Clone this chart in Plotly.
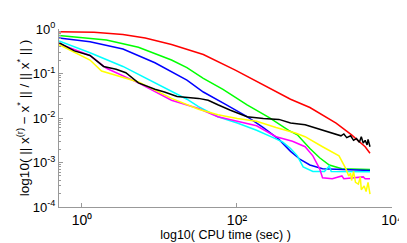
import plotly.graph_objects as go

# CPU time (sec) and relative error
red_t = [0.505, 1.43, 3.38, 6.55, 14.3, 36.8, 95.2, 276, 491, 873, 1900, 3011, 4504, 5200]
red_e = [0.868, 0.848, 0.753, 0.624, 0.448, 0.267, 0.119, 0.0443, 0.0264, 0.0172, 0.00771, 0.00418, 0.00226, 0.00162]

green_t = [0.505, 2.07, 5.35, 8.74, 14.3, 22.6, 36.8, 66.0, 135, 261, 464, 601, 873, 1164, 1552, 2258, 5200]
green_e = [0.718, 0.567, 0.389, 0.279, 0.201, 0.135, 0.078, 0.044, 0.0198, 0.0102, 0.00529, 0.00418, 0.00206, 0.00128, 0.000879, 0.000728, 0.000694]

blue_t = [0.505, 1.27, 3.38, 8.74, 22.6, 36.8, 69.4, 135, 219, 348, 491, 655, 873, 1270, 5200]
blue_e = [0.624, 0.516, 0.354, 0.174, 0.071, 0.0384, 0.0208, 0.0107, 0.00609, 0.00330, 0.00178, 0.00117, 0.000879, 0.000728, 0.000662]

cyan_t = [0.505, 1.27, 3.38, 8.74, 16.9, 22.6, 31.9, 56.7, 101, 179, 293, 390, 491, 601, 714, 953, 1345, 1552, 1645, 5200]
cyan_e = [0.541, 0.293, 0.144, 0.0616, 0.0350, 0.0264, 0.0180, 0.0107, 0.00771, 0.00529, 0.00362, 0.00286, 0.00206, 0.00141, 0.000800, 0.000631, 0.000631, 0.000838, 0.000631, 0.000617]

magenta_t = [0.505, 1.27, 2.07, 5.35, 14.3, 31.9, 56.7, 101, 179, 319, 520, 757, 953, 1164, 1270, 1693, 2258, 2392, 4254, 4504, 5200]
magenta_e = [0.470, 0.254, 0.131, 0.0616, 0.0251, 0.0164, 0.0107, 0.00848, 0.00670, 0.00380, 0.00300, 0.00226, 0.00141, 0.000728, 0.000453, 0.000432, 0.000498, 0.000432, 0.000475, 0.000432, 0.000432]

yellow_t = [0.505, 1.27, 1.79, 5.35, 14.3, 31.9, 56.7, 101, 179, 319, 567, 757, 1270, 2072, 2535, 2762, 2926, 3011, 3190, 3381, 3680, 3898, 4015, 4375, 4634, 4910, 5200]
yellow_e = [0.448, 0.201, 0.114, 0.0646, 0.0276, 0.0157, 0.0118, 0.00977, 0.00848, 0.00609, 0.00459, 0.00380, 0.00226, 0.00141, 0.000728, 0.000498, 0.000574, 0.000394, 0.000631, 0.000358, 0.000326, 0.000475, 0.000245, 0.000296, 0.000223, 0.000358, 0.000194]

black_t = [0.505, 0.80, 1.27, 1.90, 2.76, 3.68, 5.35, 8.74, 11.6, 16.9, 31.9, 42.5, 56.7, 82.4, 135, 219, 348, 491, 757, 1069, 1900, 2195, 2392, 2609, 2926, 3190, 3477, 3792, 4015, 4254, 4504, 4772, 4910, 5200]
black_e = [0.492, 0.322, 0.254, 0.144, 0.125, 0.104, 0.0616, 0.0443, 0.0384, 0.0303, 0.0276, 0.0251, 0.0198, 0.0149, 0.0107, 0.00977, 0.00931, 0.00771, 0.00702, 0.00581, 0.00418, 0.00398, 0.00438, 0.00362, 0.00398, 0.00315, 0.00345, 0.00286, 0.00380, 0.00273, 0.00315, 0.00248, 0.00330, 0.00226]

x_tickvals = [1, 100, 10000]
x_ticktext = ["10\u2070", "10\u00b2", "10\u2074"]
y_tickvals = [1, 0.1, 0.01, 0.001, 0.0001]
y_ticktext = ["10<sup>0</sup>", "10<sup>-1</sup>", "10<sup>-2</sup>", "10<sup>-3</sup>", "10<sup>-4</sup>"]

series = [
    (red_t, red_e, "#ff0000"),
    (green_t, green_e, "#00ff00"),
    (blue_t, blue_e, "#0000ff"),
    (cyan_t, cyan_e, "#00ffff"),
    (magenta_t, magenta_e, "#ff00ff"),
    (yellow_t, yellow_e, "#ffff00"),
    (black_t, black_e, "#000000"),
]

fig = go.Figure()
for t, e, c in series:
    fig.add_trace(go.Scatter(x=t, y=e, mode="lines", line=dict(color=c, width=1.5),
                             showlegend=False, hoverinfo="skip"))

y_minor = [m * 10 ** p for p in range(-4, 0) for m in range(2, 10)]

axis_color = "#999999"
fig.update_layout(
    width=407, height=243,
    margin=dict(l=51, r=12, t=14, b=34),
    paper_bgcolor="white", plot_bgcolor="white",
    font=dict(family="Liberation Sans, Arial, sans-serif", size=13, color="black"),
    xaxis=dict(type="log", range=[-0.296, 4.0], showgrid=False, zeroline=False,
               showline=True, linecolor=axis_color, linewidth=1,
               ticks="inside", ticklen=4, tickcolor=axis_color,
               tickvals=x_tickvals, ticktext=x_ticktext,
               ticklabeloverflow="allow",
               tickfont=dict(size=14, color="black"),
               title=dict(text="log10( CPU time (sec) )", font=dict(size=12.5), standoff=2)),
    yaxis=dict(type="log", range=[-4, 0], showgrid=False, zeroline=False,
               showline=True, linecolor=axis_color, linewidth=1,
               ticks="inside", ticklen=4, tickcolor=axis_color,
               tickvals=y_tickvals, ticktext=y_ticktext,
               ticklabeloverflow="allow",
               tickfont=dict(size=13, color="black"),
               minor=dict(ticks="inside", ticklen=2, tickcolor=axis_color, tickvals=y_minor, showgrid=False),
               title=dict(text="log10( || x<sup>(r)</sup> \u2212 x<sup>*</sup> || / || x<sup>*</sup> || )",
                          font=dict(size=13.5), standoff=0)),
)

fig.write_html("out.html")
